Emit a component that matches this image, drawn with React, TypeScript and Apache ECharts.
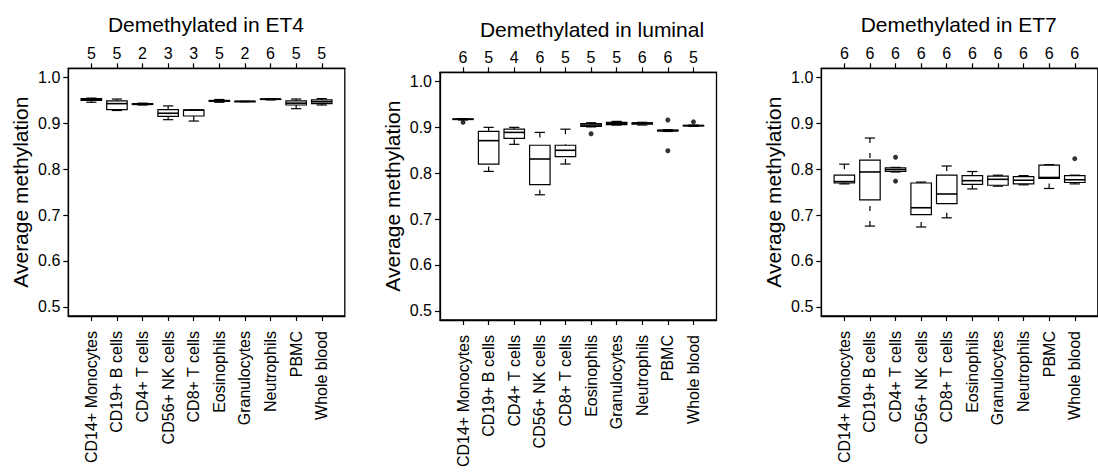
import React, { useEffect, useRef } from "react";
import * as echarts from "echarts";

const categories = [
  "CD14+ Monocytes",
  "CD19+ B cells",
  "CD4+ T cells",
  "CD56+ NK cells",
  "CD8+ T cells",
  "Eosinophils",
  "Granulocytes",
  "Neutrophils",
  "PBMC",
  "Whole blood",
];
const panelTitles = ["Demethylated in ET4", "Demethylated in luminal", "Demethylated in ET7"];
const yAxisTitle = "Average methylation";
const yTicks = [0.5, 0.6, 0.7, 0.8, 0.9, 1.0];

const et4Counts = [5, 5, 2, 3, 3, 5, 2, 6, 5, 5];
const luminalCounts = [6, 5, 4, 6, 5, 5, 5, 6, 6, 5];
const et7Counts = [6, 6, 6, 6, 6, 6, 6, 6, 6, 6];

// [lower whisker, Q1, median, Q3, upper whisker]
const et4Stats = [
  [0.946, 0.95, 0.952, 0.954, 0.955],
  [0.928, 0.93, 0.943, 0.949, 0.953],
  [0.94, 0.941, 0.942, 0.943, 0.944],
  [0.908, 0.915, 0.922, 0.93, 0.938],
  [0.905, 0.916, 0.929, 0.929, 0.929],
  [0.946, 0.948, 0.949, 0.95, 0.952],
  [0.947, 0.947, 0.948, 0.948, 0.948],
  [0.951, 0.952, 0.953, 0.953, 0.954],
  [0.932, 0.94, 0.944, 0.949, 0.953],
  [0.94, 0.943, 0.947, 0.951, 0.954],
];
const luminalStats = [
  [0.916, 0.917, 0.918, 0.918, 0.919],
  [0.804, 0.82, 0.871, 0.891, 0.9],
  [0.863, 0.876, 0.889, 0.896, 0.9],
  [0.753, 0.775, 0.831, 0.861, 0.889],
  [0.82, 0.836, 0.85, 0.861, 0.896],
  [0.901, 0.902, 0.905, 0.908, 0.91],
  [0.905, 0.906, 0.909, 0.911, 0.913],
  [0.905, 0.907, 0.909, 0.91, 0.911],
  [0.891, 0.892, 0.893, 0.894, 0.895],
  [0.902, 0.903, 0.904, 0.904, 0.905],
];
const et7Stats = [
  [0.768, 0.77, 0.773, 0.787, 0.811],
  [0.676, 0.733, 0.794, 0.82, 0.868],
  [0.794, 0.795, 0.799, 0.803, 0.804],
  [0.674, 0.701, 0.716, 0.77, 0.772],
  [0.694, 0.725, 0.746, 0.787, 0.807],
  [0.757, 0.767, 0.775, 0.786, 0.795],
  [0.763, 0.765, 0.778, 0.785, 0.787],
  [0.766, 0.768, 0.776, 0.784, 0.786],
  [0.758, 0.78, 0.782, 0.809, 0.81],
  [0.768, 0.771, 0.777, 0.786, 0.787],
];

// [category index, value]
const et4Outliers: number[][] = [];
const luminalOutliers = [
  [0, 0.911],
  [5, 0.886],
  [8, 0.916],
  [8, 0.849],
  [9, 0.912],
];
const et7Outliers = [
  [2, 0.826],
  [2, 0.774],
  [9, 0.823],
];

const panels = [
  { title: panelTitles[0], counts: et4Counts, stats: et4Stats, outliers: et4Outliers },
  { title: panelTitles[1], counts: luminalCounts, stats: luminalStats, outliers: luminalOutliers },
  { title: panelTitles[2], counts: et7Counts, stats: et7Stats, outliers: et7Outliers },
];

// layout (pixels)
const FONT = "'Liberation Sans', Arial, Helvetica, sans-serif";
const frames = [
  { left: 68.3, top: 68.3, titleX: 206, titleTop: 13.5 },
  { left: 440, top: 72.3, titleX: 592, titleTop: 18.8 },
  { left: 821.3, top: 68.3, titleX: 958.7, titleTop: 14 },
];
const FRAME_W = 276.5;
const FRAME_H = 247.7;
const X_MIN = 0.1;
const X_MAX = 10.9;
const Y_MIN = 0.48;
const Y_MAX = 1.02;

const positions = categories.map((_, i) => i + 1);

const solid = { stroke: "#000", lineWidth: 1.2 };
const dashed = { stroke: "#000", lineWidth: 1.2, lineDash: [5, 10] };

function renderBox(_params: any, api: any) {
  const x = api.value(0);
  const lw = api.value(1);
  const q1 = api.value(2);
  const med = api.value(3);
  const q3 = api.value(4);
  const uw = api.value(5);
  const pLw = api.coord([x, lw]);
  const pQ1 = api.coord([x, q1]);
  const pMed = api.coord([x, med]);
  const pQ3 = api.coord([x, q3]);
  const pUw = api.coord([x, uw]);
  const bw = api.size([0.8, 0])[0];
  const cw = bw / 2;
  const cx = pMed[0];
  return {
    type: "group",
    children: [
      { type: "line", shape: { x1: cx, y1: pUw[1], x2: cx, y2: pQ3[1] }, style: dashed },
      { type: "line", shape: { x1: cx, y1: pLw[1], x2: cx, y2: pQ1[1] }, style: dashed },
      { type: "line", shape: { x1: cx - cw / 2, y1: pUw[1], x2: cx + cw / 2, y2: pUw[1] }, style: solid },
      { type: "line", shape: { x1: cx - cw / 2, y1: pLw[1], x2: cx + cw / 2, y2: pLw[1] }, style: solid },
      {
        type: "rect",
        shape: { x: cx - bw / 2, y: pQ3[1], width: bw, height: pQ1[1] - pQ3[1] },
        style: { fill: "#fff", stroke: "#000", lineWidth: 1.2 },
      },
      {
        type: "line",
        shape: { x1: cx - bw / 2, y1: pMed[1], x2: cx + bw / 2, y2: pMed[1] },
        style: { stroke: "#000", lineWidth: 1.6 },
      },
    ],
  };
}

function buildOption() {
  const grid: any[] = [];
  const xAxis: any[] = [];
  const yAxis: any[] = [];
  const series: any[] = [];
  const title: any[] = [];

  panels.forEach((p, i) => {
    const f = frames[i];
    grid.push({
      left: f.left,
      top: f.top,
      width: FRAME_W,
      height: FRAME_H,
      show: true,
      borderColor: "#000",
      borderWidth: 1.3,
      backgroundColor: "transparent",
      containLabel: false,
    });
    title.push({
      text: p.title,
      left: f.titleX,
      top: f.titleTop,
      textAlign: "center",
      padding: 0,
      textStyle: { fontSize: 21, fontWeight: "normal", color: "#000", fontFamily: FONT },
    });
    xAxis.push({
      gridIndex: i,
      type: "value",
      position: "bottom",
      min: X_MIN,
      max: X_MAX,
      splitLine: { show: false },
      axisLine: { show: true, lineStyle: { color: "#000", width: 1.3 } },
      axisTick: { show: true, customValues: positions, length: 5, lineStyle: { color: "#000", width: 1.2 } },
      axisLabel: {
        customValues: positions,
        rotate: 90,
        margin: 15,
        fontSize: 16,
        color: "#000",
        fontFamily: FONT,
        formatter: (v: number) => categories[Math.round(v) - 1] ?? "",
      },
    });
    xAxis.push({
      gridIndex: i,
      type: "value",
      position: "top",
      min: X_MIN,
      max: X_MAX,
      splitLine: { show: false },
      axisLine: { show: true, lineStyle: { color: "#000", width: 1.3 } },
      axisTick: { show: true, customValues: positions, length: 5, lineStyle: { color: "#000", width: 1.2 } },
      axisLabel: {
        customValues: positions,
        margin: 6.5,
        fontSize: 16,
        color: "#000",
        fontFamily: FONT,
        formatter: (v: number) => String(p.counts[Math.round(v) - 1] ?? ""),
      },
    });
    yAxis.push({
      gridIndex: i,
      type: "value",
      min: Y_MIN,
      max: Y_MAX,
      name: yAxisTitle,
      nameLocation: "middle",
      nameRotate: 90,
      nameGap: 37.5,
      nameTextStyle: { fontSize: 21, color: "#000", fontFamily: FONT },
      splitLine: { show: false },
      axisLine: { show: true, lineStyle: { color: "#000", width: 1.3 } },
      axisTick: { show: true, customValues: yTicks, length: 5, lineStyle: { color: "#000", width: 1.2 } },
      axisLabel: {
        customValues: yTicks,
        margin: 8,
        fontSize: 16,
        color: "#000",
        fontFamily: FONT,
        formatter: (v: number) => v.toFixed(1),
      },
    });
    series.push({
      type: "custom",
      name: p.title,
      xAxisIndex: i * 2,
      yAxisIndex: i,
      renderItem: renderBox,
      dimensions: ["x", "lw", "q1", "med", "q3", "uw"],
      encode: { x: 0, y: [1, 2, 3, 4, 5] },
      data: p.stats.map((s, k) => [k + 1, ...s]),
      z: 2,
    });
    series.push({
      type: "scatter",
      xAxisIndex: i * 2,
      yAxisIndex: i,
      symbol: "circle",
      symbolSize: 5,
      itemStyle: { color: "#000" },
      data: p.outliers.map((o) => [o[0] + 1, o[1]]),
      z: 3,
    });
  });

  return {
    animation: false,
    backgroundColor: "#fff",
    textStyle: { fontFamily: FONT },
    title,
    grid,
    xAxis,
    yAxis,
    series,
  };
}

export default function App() {
  const ref = useRef<HTMLDivElement>(null);
  useEffect(() => {
    if (!ref.current) return;
    const chart = echarts.init(ref.current, undefined, { renderer: "svg" });
    chart.setOption(buildOption() as any);
    return () => chart.dispose();
  }, []);
  return (
    <div
      ref={ref}
      style={{ position: "absolute", left: 0, top: 0, width: 1098, height: 473 }}
    />
  );
}
